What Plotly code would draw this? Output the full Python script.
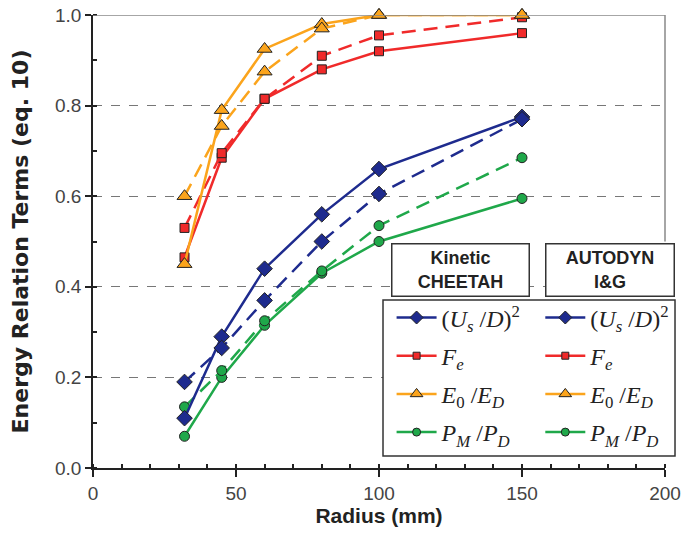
import plotly.graph_objects as go

radius = [32, 45, 60, 80, 100, 150]

# Kinetic CHEETAH (solid)
ch_usd2 = [0.11, 0.29, 0.44, 0.56, 0.66, 0.775]
ch_fe = [0.465, 0.685, 0.815, 0.88, 0.92, 0.96]
ch_e0ed = [0.45, 0.79, 0.925, 0.98, 1.0, 1.0]
ch_pmpd = [0.07, 0.20, 0.315, 0.43, 0.50, 0.595]

# AUTODYN I&G (dashed)
au_usd2 = [0.19, 0.265, 0.37, 0.50, 0.605, 0.77]
au_fe = [0.53, 0.695, 0.815, 0.91, 0.955, 0.995]
au_e0ed = [0.60, 0.755, 0.875, 0.97, 1.0, 1.0]
au_pmpd = [0.135, 0.215, 0.325, 0.435, 0.535, 0.685]

labels = [
    "(<i>U<sub>s</sub></i> /<i>D</i>)<sup>2</sup>",
    "<i>F<sub>e</sub></i>",
    "<i>E</i><sub>0</sub> /<i>E<sub>D</sub></i>",
    "<i>P<sub>M</sub></i> /<i>P<sub>D</sub></i>",
]
colors = ["#1E2B8E", "#F02A2A", "#FBA41C", "#1FA84A"]
symbols = ["diamond", "square", "triangle-up", "circle"]
sizes = [12, 9, 13, 10]

cheetah = [ch_usd2, ch_fe, ch_e0ed, ch_pmpd]
autodyn = [au_usd2, au_fe, au_e0ed, au_pmpd]

fig = go.Figure()
order = [3, 0, 1, 2]
for i in order:
    for series, dash in ((cheetah[i], "solid"), (autodyn[i], "14px,8px")):
        fig.add_trace(go.Scatter(
            x=radius, y=series, mode="lines+markers",
            line=dict(color=colors[i], width=2.5, dash=dash),
            marker=dict(symbol=symbols[i], size=sizes[i], color=colors[i],
                        line=dict(color="#222", width=1)),
            showlegend=False, cliponaxis=False,
        ))

# legend-only entries
for lg, name in (("legend", "c"), ("legend2", "a")):
    for i in range(4):
        fig.add_trace(go.Scatter(
            x=[None], y=[None], mode="lines+markers", name=labels[i],
            line=dict(color=colors[i], width=2.5),
            marker=dict(symbol=symbols[i], size=sizes[i] - 2, color=colors[i],
                        line=dict(color="#222", width=1)),
            legend=lg, legendgroup=name + str(i),
        ))

legend_common = dict(
    font=dict(family="Liberation Serif, Times New Roman, serif", size=24, color="#222"),
    bgcolor="rgba(0,0,0,0)", borderwidth=0, yanchor="top", xanchor="left",
    traceorder="grouped", tracegroupgap=4, itemwidth=40,
)

fig.update_layout(
    width=681, height=537,
    margin=dict(l=93, r=16, t=15, b=69, autoexpand=False),
    paper_bgcolor="white", plot_bgcolor="white",
    font=dict(family="Liberation Sans, Arial, sans-serif", color="#333"),
    xaxis=dict(
        range=[0, 200], tickvals=[0, 50, 100, 150, 200],
        showgrid=False, zeroline=False,
        showline=True, linecolor="#222", linewidth=1.5,
        ticks="outside", ticklen=7, tickcolor="#222", tickwidth=1.5,
        minor=dict(dtick=10, ticks="inside", ticklen=4, tickcolor="#222", showgrid=False),
        tickfont=dict(size=19, color="#444"),
        title=dict(text="<b>Radius (mm)</b>", font=dict(size=21, color="#222"), standoff=1),
    ),
    yaxis=dict(
        range=[0, 1], tickvals=[0, 0.2, 0.4, 0.6, 0.8, 1.0], tickformat=".1f",
        showgrid=True, gridcolor="#777", griddash="dash", gridwidth=1,
        zeroline=False,
        showline=True, linecolor="#222", linewidth=1.5,
        ticks="outside", ticklen=6, tickcolor="#222", tickwidth=1.5,
        minor=dict(dtick=0.1, ticks="inside", ticklen=4, tickcolor="#222", showgrid=False),
        tickfont=dict(size=19, color="#444"),
        title=dict(text="<b>Energy Relation Terms (eq. 10)</b>",
                   font=dict(family="DejaVu Sans, sans-serif", size=22, color="#222"), standoff=20),
    ),
    legend=dict(x=0.522, y=0.381, **legend_common),
    legend2=dict(x=0.782, y=0.381, **legend_common),
    shapes=[
        dict(type="line", xref="paper", yref="y", x0=0, x1=1, y0=1, y1=1,
             line=dict(color="#888", width=1.5), layer="above"),
        dict(type="line", xref="paper", yref="y", x0=1, x1=1, y0=1, y1=0.5,
             line=dict(color="#888", width=1.5), layer="above"),
        dict(type="rect", xref="paper", yref="paper", x0=0.507, x1=1.0175, y0=0.0265, y1=0.371,
             line=dict(color="#333", width=1.5), fillcolor="white", layer="above"),
    ],
    annotations=[
        dict(text="<b>Kinetic<br>CHEETAH</b>", xref="paper", yref="paper", x=0.643, y=0.437,
             xanchor="center", yanchor="middle",
             showarrow=False, font=dict(size=18, color="#222"), width=134, height=49,
             bordercolor="#333", borderwidth=1.5, bgcolor="white", align="center"),
        dict(text="<b>AUTODYN<br>I&amp;G</b>", xref="paper", yref="paper", x=0.903, y=0.437,
             xanchor="center", yanchor="middle",
             showarrow=False, font=dict(size=18, color="#222"), width=125, height=49,
             bordercolor="#333", borderwidth=1.5, bgcolor="white", align="center"),
    ],
)

fig.write_html("out.html")
